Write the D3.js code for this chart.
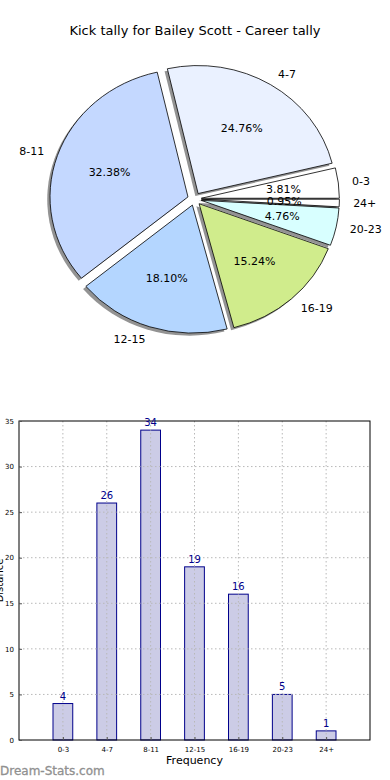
<!DOCTYPE html>
<html>
<head>
<meta charset="utf-8">
<script src="https://cdn.jsdelivr.net/npm/d3@7"></script>
<style>
  body { margin: 0; background: #fff; }
  svg { display: block; font-family: "DejaVu Sans", sans-serif; }
</style>
</head>
<body>
<div class="chart"></div>
<script>
// kick distance ranges and career counts
const categories = ['0-3', '4-7', '8-11', '12-15', '16-19', '20-23', '24+'];
const kicks = [4, 26, 34, 19, 16, 5, 1];
const sliceColors = ['#ffffff', '#eaf1ff', '#c4d8ff', '#b4d6ff', '#d0ec8c', '#d8ffff', '#ffffff'];
const yTicks = [0, 5, 10, 15, 20, 25, 30, 35];

const W = 390, H = 780;
const svg = d3.select('.chart')
  .append('svg')
  .attr('width', W)
  .attr('height', H);

svg.append('text')
  .attr('x', 195)
  .attr('y', 35)
  .attr('text-anchor', 'middle')
  .style('font-size', '13px')
  .text('Kick tally for Bailey Scott - Career tally');

// ---- pie (matplotlib style: starts at 3 o'clock, counter-clockwise, exploded)
const cx = 194.5, cy = 199, rx = 138, ry = 128;
const explode = 0.05;
const total = d3.sum(kicks);

const pie = d3.pie()
  .sort(null)
  .startAngle(Math.PI / 2)
  .endAngle(Math.PI / 2 - 2 * Math.PI);
const arcs = pie(kicks);
const arc = d3.arc().innerRadius(0).outerRadius(1);

const mid = d => (d.startAngle + d.endAngle) / 2;
const pos = (d, k) => [cx + k * rx * Math.sin(mid(d)), cy - k * ry * Math.cos(mid(d))];

const pieG = svg.append('g');

// shadows first
pieG.selectAll('.shadow')
  .data(arcs)
  .enter()
  .append('path')
  .attr('class', 'shadow')
  .attr('transform', d => {
    const [x, y] = pos(d, explode);
    return `translate(${x - 0.02 * rx}, ${y + 0.02 * ry}) scale(${rx}, ${ry})`;
  })
  .attr('d', arc)
  .style('fill', '#808080')
  .style('opacity', 0.85);

pieG.selectAll('.slice')
  .data(arcs)
  .enter()
  .append('path')
  .attr('class', 'slice')
  .attr('transform', d => {
    const [x, y] = pos(d, explode);
    return `translate(${x}, ${y}) scale(${rx}, ${ry})`;
  })
  .attr('d', arc)
  .attr('vector-effect', 'non-scaling-stroke')
  .style('fill', (d, i) => sliceColors[i])
  .style('stroke', '#000')
  .style('stroke-width', 0.8);

pieG.selectAll('.plabel')
  .data(arcs)
  .enter()
  .append('text')
  .attr('class', 'plabel')
  .attr('x', d => pos(d, explode + 1.1)[0])
  .attr('y', d => pos(d, explode + 1.1)[1])
  .attr('dy', '0.35em')
  .attr('text-anchor', d => Math.sin(mid(d)) > 0 ? 'start' : 'end')
  .style('font-size', '11px')
  .text((d, i) => categories[i]);

pieG.selectAll('.pct')
  .data(arcs)
  .enter()
  .append('text')
  .attr('class', 'pct')
  .attr('x', d => pos(d, explode + 0.6)[0])
  .attr('y', d => pos(d, explode + 0.6)[1])
  .attr('dy', '0.35em')
  .attr('text-anchor', 'middle')
  .style('font-size', '11px')
  .text(d => (d.value / total * 100).toFixed(2) + '%');

// ---- bar chart
const plotLeft = 19, plotRight = 370, plotTop = 421, plotBottom = 740;
const x = d3.scaleLinear().domain([0, categories.length + 1]).range([plotLeft, plotRight]);
const y = d3.scaleLinear().domain([0, 35]).range([plotBottom, plotTop]);
const barW = x(0.45) - x(0);

const bars = svg.append('g');
bars.selectAll('rect')
  .data(kicks)
  .enter()
  .append('rect')
  .attr('x', (d, i) => x(i + 1) - barW / 2)
  .attr('y', d => y(d))
  .attr('width', barW)
  .attr('height', d => y(0) - y(d))
  .style('fill', '#ccccE6')
  .style('stroke', '#00008b')
  .style('stroke-width', 1);

// grid
const grid = svg.append('g')
  .style('stroke', '#b8b8b8')
  .style('stroke-width', 1)
  .style('stroke-dasharray', '1.5,2.5');
grid.selectAll('.gx')
  .data(categories)
  .enter()
  .append('line')
  .attr('x1', (d, i) => x(i + 1))
  .attr('x2', (d, i) => x(i + 1))
  .attr('y1', plotTop)
  .attr('y2', plotBottom);
grid.selectAll('.gy')
  .data(yTicks.slice(1, -1))
  .enter()
  .append('line')
  .attr('x1', plotLeft)
  .attr('x2', plotRight)
  .attr('y1', d => y(d))
  .attr('y2', d => y(d));

// frame
svg.append('rect')
  .attr('x', plotLeft)
  .attr('y', plotTop)
  .attr('width', plotRight - plotLeft)
  .attr('height', plotBottom - plotTop)
  .style('fill', 'none')
  .style('stroke', '#000')
  .style('stroke-width', 1);

// axes (ticks inside, like matplotlib)
const xAxis = svg.append('g')
  .attr('transform', `translate(0, ${plotBottom})`)
  .call(d3.axisBottom(x)
    .tickValues(d3.range(1, categories.length + 1))
    .tickFormat(i => categories[i - 1])
    .tickSizeInner(-3)
    .tickSizeOuter(0)
    .tickPadding(7));
const yAxis = svg.append('g')
  .attr('transform', `translate(${plotLeft}, 0)`)
  .call(d3.axisLeft(y)
    .tickValues(yTicks)
    .tickSizeInner(-3)
    .tickSizeOuter(0)
    .tickPadding(5));
[xAxis, yAxis].forEach(a => {
  a.select('.domain').remove();
  a.selectAll('text').style('font-size', '7px').style('font-family', '"DejaVu Sans", sans-serif');
  a.selectAll('line').style('stroke', '#555');
});

// value labels
svg.append('g')
  .selectAll('text')
  .data(kicks)
  .enter()
  .append('text')
  .attr('x', (d, i) => x(i + 1))
  .attr('y', d => y(d) - 4)
  .attr('text-anchor', 'middle')
  .style('font-size', '10px')
  .style('fill', '#00008b')
  .text(d => d);

svg.append('text')
  .attr('x', (plotLeft + plotRight) / 2)
  .attr('y', 764)
  .attr('text-anchor', 'middle')
  .style('font-size', '11px')
  .text('Frequency');

// y label sits partly off the left edge, as in the original
svg.append('text')
  .attr('transform', `translate(3, ${(plotTop + plotBottom) / 2}) rotate(-90)`)
  .attr('text-anchor', 'middle')
  .style('font-size', '10px')
  .text('Distance');

svg.append('text')
  .attr('x', 0)
  .attr('y', 775)
  .style('font-size', '12px')
  .style('fill', '#909090')
  .style('stroke', '#909090')
  .style('stroke-width', 0.3)
  .text('Dream-Stats.com');
</script>
</body>
</html>
